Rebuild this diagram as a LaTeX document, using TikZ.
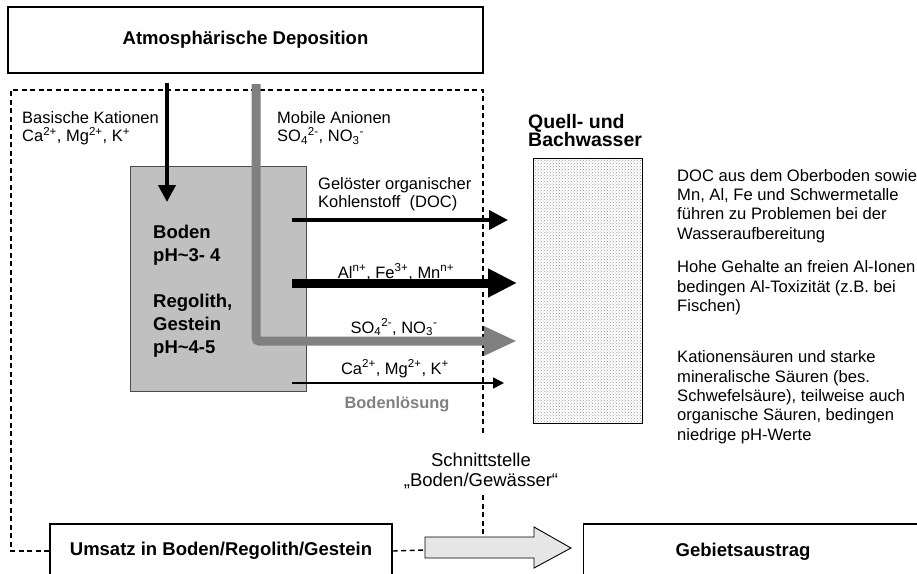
\documentclass[tikz,border=0pt]{standalone}
\usepackage{fontspec}
\setmainfont{Liberation Sans}
\usetikzlibrary{arrows.meta,patterns}
\definecolor{soilgrey}{RGB}{192,192,192}
\definecolor{flowgrey}{RGB}{128,128,128}
\definecolor{palegrey}{RGB}{230,230,230}

\begin{document}
\begin{tikzpicture}[x=1pt, y=-1pt, >=Stealth,
  txt/.style={font=\fontsize{16.5}{18.5}\selectfont, inner sep=0pt, align=left},
  note/.style={font=\fontsize{16.6}{19.3}\selectfont, inner sep=0pt, align=left, anchor=base west},
  head/.style={font=\bfseries\fontsize{18.5}{23}\selectfont, inner sep=0pt},
  frame/.style={draw, line width=1.2pt},
  border/.style={dashed, dash pattern=on 5pt off 3.5pt, line width=1.4pt},
  hollow/.style={draw, line width=0.9pt, fill=palegrey}]
  \useasboundingbox (0,0) rectangle (917,573);
  \clip (0,0) rectangle (917,573);

  \node[frame, head, minimum width=475pt, minimum height=66pt] (depo) at (245.5,40) {Atmosphärische Deposition};
  \node[draw=black!70, line width=0.8pt, fill=soilgrey, minimum width=176pt, minimum height=225pt] (boden) at (218,278.5) {};
  \node[draw, line width=0.9pt, fill=black!10, pattern=crosshatch dots, pattern color=black!40,
        minimum width=109pt, minimum height=265pt] (bach) at (587.5,290.5) {};
  % base anchor of a multi-line node = baseline of its last line
  \node[head, align=left, anchor=base west] (bodentxt) at (153,353)
    {Boden\\pH\textasciitilde3- 4\\[23pt]Regolith,\\Gestein\\pH\textasciitilde4-5};
  \node[font=\bfseries\fontsize{19.5}{18.5}\selectfont, inner sep=0pt, align=left, anchor=base west] (bachtxt) at (528,146.5)
    {Quell- und\\Bachwasser};

  \node[txt, anchor=base west] (kationen) at (22,141.5) {Basische Kationen\\Ca\textsuperscript{2+}, Mg\textsuperscript{2+}, K\textsuperscript{+}};
  \node[txt, anchor=base west] (anionen) at (277,141.5) {Mobile Anionen\\SO\textsubscript{4}\textsuperscript{2-}, NO\textsubscript{3}\textsuperscript{-}};
  \node[txt, anchor=base west] (doctxt) at (318,207.5) {Gelöster organischer\\Kohlenstoff\ \ (DOC)};
  \node[txt, anchor=base] (metalle) at (396,278) {Al\textsuperscript{n+}, Fe\textsuperscript{3+}, Mn\textsuperscript{n+}};
  \node[txt, anchor=base] (sulfat) at (394,333) {SO\textsubscript{4}\textsuperscript{2-}, NO\textsubscript{3}\textsuperscript{-}};
  \node[txt, anchor=base] (basen) at (395,374) {Ca\textsuperscript{2+}, Mg\textsuperscript{2+}, K\textsuperscript{+}};
  \node[font=\bfseries\fontsize{16.4}{18}\selectfont, text=flowgrey, inner sep=0pt, anchor=base] (loesung) at (397,408) {Bodenlösung};

  \node[note] (hinweisA) at (677,239) {DOC aus dem Oberboden sowie\\Mn, Al, Fe und Schwermetalle\\führen zu Problemen bei der\\Wasseraufbereitung};
  \node[note] (hinweisB) at (677,311.5) {Hohe Gehalte an freien Al-Ionen\\bedingen Al-Toxizität (z.B. bei\\Fischen)};
  \node[note] (hinweisC) at (677,440) {Kationensäuren und starke\\mineralische Säuren (bes.\\Schwefelsäure), teilweise auch\\organische Säuren, bedingen\\niedrige pH-Werte};

  \node[txt, font=\fontsize{18.5}{20}\selectfont, align=center, anchor=base] (schnitt) at (481,486.5) {Schnittstelle\\„Boden/Gewässer“};

  \node[frame, head, minimum width=342pt, minimum height=54pt] (umsatz) at (221,551) {Umsatz in Boden/Regolith/Gestein};
  \node[frame, minimum width=360pt, minimum height=54pt, anchor=west] (gebiet) at (583,551) {};
  \node[head] (gebiettxt) at (743,552) {Gebietsaustrag};

  \coordinate (katA) at (167,83);
  \coordinate (katB) at (167,202);
  \coordinate (anA) at (256,84);
  \coordinate (anB) at (517,341);
  \coordinate (docA) at (292,220);
  \coordinate (docB) at (508,220);
  \coordinate (metA) at (292,283);
  \coordinate (metB) at (517,283);
  \coordinate (basA) at (292,383);
  \coordinate (basB) at (504,383);
  \coordinate (ecke) at (11,90);
  \coordinate (cutA) at (483,435);
  \coordinate (cutB) at (483,495);
  \coordinate (pfeilL) at (425,550);
  \coordinate (pfeilT) at (483,537);

  \draw[border] (umsatz.west) -| (ecke) -| (cutA);
  \draw[border] (cutB) -- (pfeilT);
  \draw[border] (umsatz.east) -- (pfeilL);
  \draw[hollow] (425,537) -- (534,537) -- (534,527) -- (571,548) -- (534,568) -- (534,558) -- (425,558) -- cycle;

  \draw[line width=4pt, -{Triangle[length=17pt,width=17pt]}] (katA) -- (katB);
  \draw[flowgrey, line width=9pt, rounded corners=3pt, -{Triangle[length=33pt,width=27pt]}] (anA) |- (anB);
  \draw[line width=4pt, -{Triangle[length=19pt,width=19pt]}] (docA) -- (docB);
  \draw[line width=9pt, -{Triangle[length=29pt,width=27pt]}] (metA) -- (metB);
  \draw[line width=1.5pt, -{Triangle[length=11pt,width=11pt]}] (basA) -- (basB);
\end{tikzpicture}
\end{document}
